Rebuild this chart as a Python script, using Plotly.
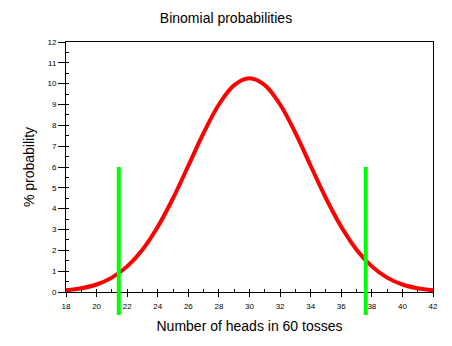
import plotly.graph_objects as go

# Number of heads (k) and % probability
heads = [18, 19, 20, 21, 22, 23, 24, 25, 26, 27, 28, 29, 30,
         31, 32, 33, 34, 35, 36, 37, 38, 39, 40, 41, 42]
pct_prob = [0.08, 0.18, 0.36, 0.69, 1.23, 2.03, 3.13, 4.50, 6.06, 7.64, 9.00, 9.93, 10.26,
            9.93, 9.00, 7.64, 6.06, 4.50, 3.13, 2.03, 1.23, 0.69, 0.36, 0.18, 0.08]

# Green marker lines
marker_x = [21.45, 37.6]
marker_y = [-1.1, 6.0]

x_range = [18, 42]
y_range = [0, 12]
x_ticks = list(range(18, 43, 2))
y_ticks = list(range(0, 13, 1))

fig = go.Figure()
fig.add_trace(go.Scatter(x=heads, y=pct_prob, mode="lines",
                         line=dict(color="#ff0000", width=4, shape="spline"),
                         showlegend=False, hoverinfo="skip"))
# dummy trace for overlay axes (inside minor ticks)
fig.add_trace(go.Scatter(x=[None], y=[None], xaxis="x2", yaxis="y2",
                         showlegend=False, hoverinfo="skip"))

def ypaper(v):
    return (v - y_range[0]) / (y_range[1] - y_range[0])

for mx in marker_x:
    fig.add_shape(type="line", xref="x", yref="y domain",
                  x0=mx, x1=mx, y0=ypaper(marker_y[0]), y1=ypaper(marker_y[1]),
                  line=dict(color="#00ff00", width=4), layer="above")

tickfont = dict(family="Liberation Sans, Arial", size=8, color="black")
fig.update_layout(
    width=452, height=346,
    margin=dict(l=66, r=19, t=42, b=54),
    paper_bgcolor="white", plot_bgcolor="white",
    title=dict(text="Binomial probabilities", x=0.5, xanchor="center",
               y=1 - 18/346, yanchor="middle",
               font=dict(family="Liberation Sans, Arial", size=14, color="black")),
    xaxis=dict(range=x_range, tickvals=x_ticks, ticks="outside", ticklen=4,
               tickcolor="black", showline=True, linecolor="black", linewidth=1,
               mirror=True, showgrid=False, zeroline=False, tickfont=tickfont,
               ticklabelstandoff=2,
               title=dict(text="Number of heads in 60 tosses", standoff=11,
                          font=dict(family="Liberation Sans, Arial", size=14, color="black"))),
    yaxis=dict(range=y_range, tickvals=y_ticks, ticks="outside", ticklen=7,
               tickcolor="black", showline=True, linecolor="black", linewidth=1,
               mirror=True, showgrid=False, zeroline=False, tickfont=tickfont,
               title=dict(text="% probability", standoff=9,
                          font=dict(family="Liberation Sans, Arial", size=14, color="black"))),
    xaxis2=dict(range=x_range, overlaying="x", anchor="y", side="bottom",
                dtick=1, tick0=18, ticks="inside", ticklen=3, tickcolor="black",
                showticklabels=False, showgrid=False, zeroline=False, showline=False),
    yaxis2=dict(range=y_range, overlaying="y", anchor="x", side="left",
                dtick=0.5, tick0=0, ticks="inside", ticklen=3, tickcolor="black",
                showticklabels=False, showgrid=False, zeroline=False, showline=False),
)

fig.write_html("out.html")
